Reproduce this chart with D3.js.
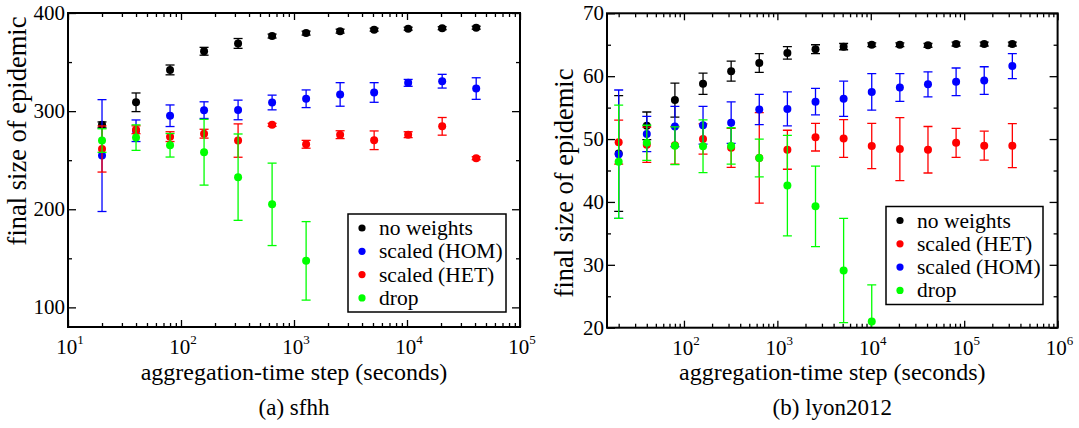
<!DOCTYPE html>
<html>
<head>
<meta charset="utf-8">
<script src="https://cdn.jsdelivr.net/npm/d3@7"></script>
<style>
  body { margin: 0; background: #fff; }
  svg { display: block; }
</style>
</head>
<body>
<svg id="chart" width="1079" height="428"></svg>
<script>
// ---------- data ----------
const stepsA = [20, 40, 80, 160, 320, 640, 1280, 2560, 5120, 10240, 20480, 40960];
const noWeightsA    = [286, 309, 342, 361, 369, 376.5, 379.5, 381.5, 383, 384, 384.5, 385];
const noWeightsAErr = [3, 9.5, 5, 4, 5, 2, 2, 2, 1.5, 1.5, 1.5, 1.5];
const homA    = [254.7, 280, 295.3, 301, 301.2, 308.8, 312.6, 317, 319, 328.8, 330.5, 323];
const homAErr = [57, 11, 11, 8.5, 10, 7.5, 9, 12, 10, 3.5, 7, 11];
const hetA    = [261.4, 281, 274, 277, 270, 286, 266.2, 276, 270.3, 276, 284.5, 252];
const hetAErr = [23.5, 4, 5, 4.5, 17, 1.5, 4, 4, 9.5, 3, 9, 1.5];
const dropA    = [270, 273, 265.2, 258.1, 232.7, 205, 147.4];
const dropAErr = [12, 13, 12, 33.5, 44, 42, 40];

const stepsB = [20, 40, 80, 160, 320, 640, 1280, 2560, 5120, 10240, 20480, 40960, 81920, 163840, 327680];
const noWeightsB    = [47.7, 52.1, 56.2, 58.8, 60.8, 62.1, 63.7, 64.3, 64.7, 65.0, 65.0, 64.9, 65.1, 65.1, 65.1];
const noWeightsBErr = [9.2, 2.2, 2.7, 1.7, 1.6, 1.5, 1.0, 0.7, 0.5, 0.3, 0.3, 0.3, 0.3, 0.3, 0.3];
const hetB    = [49.5, 49.1, 49.0, 50.0, 48.6, 47.0, 48.3, 50.3, 50.1, 48.9, 48.4, 48.3, 49.4, 48.95, 48.95];
const hetBErr = [3.5, 2.8, 3.0, 2.4, 3.1, 7.2, 3.1, 2.2, 3.0, 3.6, 5.0, 3.7, 2.3, 2.3, 3.5];
const homB    = [47.6, 50.8, 52.0, 52.2, 52.6, 54.7, 54.8, 55.95, 56.4, 57.5, 58.2, 58.7, 59.1, 59.3, 61.6];
const homBErr = [10.2, 2.8, 3.2, 3.0, 3.3, 2.4, 2.7, 2.1, 2.8, 2.9, 2.2, 2.0, 2.2, 2.2, 2.0];
const dropB    = [46.4, 49.4, 48.95, 48.85, 48.9, 47.0, 42.6, 39.3, 29.1, 21.0];
const dropBErr = [9, 2.8, 3, 4.2, 2.9, 3, 8, 6.4, 8.3, 5.8];

const yTicksA = [100, 200, 300, 400];
const yMinorA = [150, 250, 350];
const yTicksB = [20, 30, 40, 50, 60, 70];
const yMinorB = [25, 35, 45, 55, 65];
const xExpA = [1, 2, 3, 4, 5];
const xExpB = [2, 3, 4, 5, 6];

const yTitle = "final size of epidemic";
const xTitle = "aggregation-time step (seconds)";

// ---------- chart ----------
const svg = d3.select("#chart");
const F = "'Liberation Serif', 'Times New Roman', serif";

function panel(cfg) {
  const g = svg.append("g");
  const x = d3.scaleLog().domain(cfg.xDomain).range([cfg.left, cfg.right]);
  const y = d3.scaleLinear().domain(cfg.yDomain).range([cfg.bottom, cfg.top]);
  const w = cfg.right - cfg.left, h = cfg.bottom - cfg.top;

  const clipId = "clip" + cfg.id;
  svg.append("defs").append("clipPath").attr("id", clipId)
    .append("rect").attr("x", cfg.left).attr("y", cfg.top).attr("width", w).attr("height", h);

  const logTicks = x.ticks().filter(v => v >= cfg.xDomain[0] && v <= cfg.xDomain[1]);
  const isMajor = v => Math.abs(Math.log10(v) - Math.round(Math.log10(v))) < 1e-9;
  const majorX = logTicks.filter(isMajor), minorX = logTicks.filter(v => !isMajor(v));

  const axStyle = sel => { sel.select(".domain").remove(); sel.selectAll("line").attr("stroke", "#000").attr("stroke-width", 1.3); sel.selectAll("text").remove(); };

  g.append("g").attr("transform", `translate(0,${cfg.bottom})`)
    .call(d3.axisTop(x).tickValues(majorX).tickSize(7)).call(axStyle);
  g.append("g").attr("transform", `translate(0,${cfg.bottom})`)
    .call(d3.axisTop(x).tickValues(minorX).tickSize(4)).call(axStyle);
  g.append("g").attr("transform", `translate(0,${cfg.top})`)
    .call(d3.axisBottom(x).tickValues(majorX).tickSize(7)).call(axStyle);
  g.append("g").attr("transform", `translate(0,${cfg.top})`)
    .call(d3.axisBottom(x).tickValues(minorX).tickSize(4)).call(axStyle);

  g.append("g").attr("transform", `translate(${cfg.left},0)`)
    .call(d3.axisRight(y).tickValues(cfg.yTicks).tickSize(8)).call(axStyle);
  g.append("g").attr("transform", `translate(${cfg.left},0)`)
    .call(d3.axisRight(y).tickValues(cfg.yMinor).tickSize(4)).call(axStyle);
  g.append("g").attr("transform", `translate(${cfg.right},0)`)
    .call(d3.axisLeft(y).tickValues(cfg.yTicks).tickSize(8)).call(axStyle);
  g.append("g").attr("transform", `translate(${cfg.right},0)`)
    .call(d3.axisLeft(y).tickValues(cfg.yMinor).tickSize(4)).call(axStyle);

  g.selectAll(".ylab").data(cfg.yTicks).enter().append("text")
    .attr("x", cfg.left - 3).attr("y", d => y(d) + 7)
    .attr("text-anchor", "end").style("font", `21px ${F}`).attr("fill", "#000").text(d => d);

  cfg.xExp.forEach(e => {
    const t = g.append("text").attr("x", x(Math.pow(10, e)) + 2).attr("y", cfg.bottom + 27)
      .attr("text-anchor", "middle").style("font", `21px ${F}`).attr("fill", "#000");
    t.append("tspan").text("10");
    t.append("tspan").style("font-size", "13px").attr("dy", -10).text(String(e));
  });

  g.append("text").attr("x", (cfg.left + cfg.right) / 2).attr("y", cfg.bottom + 52.5)
    .attr("text-anchor", "middle").style("font", `24px ${F}`).attr("fill", "#000").text(xTitle);
  g.append("text").attr("transform", `translate(${cfg.yTitleX},${cfg.yTitleY}) rotate(-90)`)
    .attr("text-anchor", "middle").style("font", `26.5px ${F}`).attr("fill", "#000").text(yTitle);
  g.append("text").attr("x", (cfg.left + cfg.right) / 2).attr("y", 415)
    .attr("text-anchor", "middle").style("font", `23px ${F}`).attr("fill", "#000").text(cfg.caption);

  const dg = g.append("g").attr("clip-path", `url(#${clipId})`);
  cfg.series.forEach(s => {
    const pts = s.values.map((v, i) => ({ x: cfg.steps[i], y: v, e: s.err[i] }));
    const sg = dg.append("g");
    const eb = sg.selectAll(".eb").data(pts).enter().append("g").attr("stroke", s.color).attr("stroke-width", 1.3);
    eb.append("line").attr("x1", d => x(d.x)).attr("x2", d => x(d.x))
      .attr("y1", d => y(d.y + d.e)).attr("y2", d => y(d.y - d.e));
    eb.append("line").attr("x1", d => x(d.x) - 4.5).attr("x2", d => x(d.x) + 4.5)
      .attr("y1", d => y(d.y + d.e)).attr("y2", d => y(d.y + d.e));
    eb.append("line").attr("x1", d => x(d.x) - 4.5).attr("x2", d => x(d.x) + 4.5)
      .attr("y1", d => y(d.y - d.e)).attr("y2", d => y(d.y - d.e));
    sg.selectAll("circle").data(pts).enter().append("circle")
      .attr("cx", d => x(d.x)).attr("cy", d => y(d.y)).attr("r", 4).attr("fill", s.color);
  });

  g.append("rect").attr("x", cfg.left).attr("y", cfg.top).attr("width", w).attr("height", h)
    .attr("fill", "none").attr("stroke", "#000").attr("stroke-width", 2);

  const L = cfg.legend;
  g.append("rect").attr("x", L.x).attr("y", L.y).attr("width", L.w).attr("height", L.h)
    .attr("fill", "#fff").attr("stroke", "#000").attr("stroke-width", 1.5);
  cfg.series.forEach((s, i) => {
    const cy = L.y + 14 + i * 23.3;
    g.append("circle").attr("cx", L.x + 14).attr("cy", cy).attr("r", 3.6).attr("fill", s.color);
    g.append("text").attr("x", L.x + 31).attr("y", cy + 7).style("font", `21.5px ${F}`).attr("fill", "#000").text(s.name);
  });
}

panel({
  id: "A", left: 68, right: 520, top: 13, bottom: 327,
  xDomain: [10, 1e5], yDomain: [80, 400], steps: stepsA,
  yTicks: yTicksA, yMinor: yMinorA, xExp: xExpA,
  yTitleX: 26, yTitleY: 131, caption: "(a) sfhh",
  legend: { x: 348, y: 214, w: 158, h: 98 },
  series: [
    { name: "no weights", color: "#000000", values: noWeightsA, err: noWeightsAErr },
    { name: "scaled (HOM)", color: "#0000ff", values: homA, err: homAErr },
    { name: "scaled (HET)", color: "#ff0000", values: hetA, err: hetAErr },
    { name: "drop", color: "#00ff00", values: dropA, err: dropAErr }
  ]
});

panel({
  id: "B", left: 607, right: 1057.6, top: 13.3, bottom: 327.7,
  xDomain: [15, 1e6], yDomain: [20, 70], steps: stepsB,
  yTicks: yTicksB, yMinor: yMinorB, xExp: xExpB,
  yTitleX: 573, yTitleY: 183, caption: "(b) lyon2012",
  legend: { x: 886, y: 206.5, w: 157, h: 98 },
  series: [
    { name: "no weights", color: "#000000", values: noWeightsB, err: noWeightsBErr },
    { name: "scaled (HET)", color: "#ff0000", values: hetB, err: hetBErr },
    { name: "scaled (HOM)", color: "#0000ff", values: homB, err: homBErr },
    { name: "drop", color: "#00ff00", values: dropB, err: dropBErr }
  ]
});
</script>
</body>
</html>
